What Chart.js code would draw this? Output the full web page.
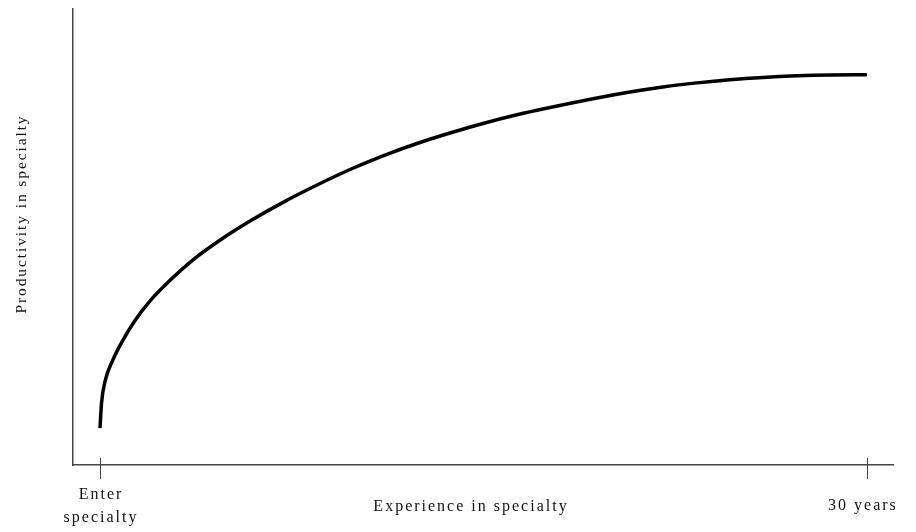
<!DOCTYPE html>
<html lang="en">
<head>
<meta charset="UTF-8">
<script src="https://cdn.jsdelivr.net/npm/chart.js"></script>
<style>
  html, body { margin: 0; padding: 0; background: #ffffff; }
  #wrap { width: 916px; height: 532px; }
</style>
</head>
<body>
<div id="wrap"><canvas id="chart" width="916" height="532"></canvas></div>
<script>
// years in specialty (0 = enter specialty, 30 = 30 years)
const years = [0, 0.06, 0.2, 0.5, 0.9, 1.37, 1.96, 2.74, 3.64, 4.69, 5.87, 7.16, 8.49, 9.78,
  11.07, 12.4, 13.69, 14.98, 16.31, 17.6, 19.44, 20.73, 22.02, 23.35, 24.64, 25.93, 27.26, 28.55, 30];
// productivity (arbitrary units, 0..100)
const productivity = [8.1, 13.6, 18.4, 23.0, 27.4, 31.7, 36.0, 40.5, 45.0, 49.3, 53.5, 57.6, 61.4, 64.8,
  67.8, 70.5, 72.8, 74.9, 76.8, 78.4, 80.5, 81.8, 82.9, 83.8, 84.5, 85.0, 85.35, 85.55, 85.6];
const tickValues = [0, 30];
const tickLabels = [['Enter', 'specialty'], ['30 years']];
const xTitle = 'Experience in specialty';
const yTitle = 'Productivity in specialty';

const textFont = '"Liberation Serif", "DejaVu Serif", serif';
const axisColor = '#444444';

// draws crossing tick marks and all texts (letter-spaced like the print)
const annotate = {
  id: 'annotate',
  afterDraw(chart) {
    const ctx = chart.ctx;
    const x = chart.scales.x;
    const area = chart.chartArea;
    ctx.save();
    ctx.strokeStyle = axisColor;
    ctx.lineWidth = 1;
    tickValues.forEach(v => {
      const px = Math.round(x.getPixelForValue(v)) + 0.5;
      ctx.beginPath();
      ctx.moveTo(px, area.bottom - 7);
      ctx.lineTo(px, area.bottom + 14);
      ctx.stroke();
    });

    ctx.fillStyle = '#111111';
    ctx.textAlign = 'center';
    ctx.textBaseline = 'middle';
    ctx.font = '16px ' + textFont;
    ctx.letterSpacing = '2px';
    // tick labels
    const enter = tickLabels[0];
    const px0 = x.getPixelForValue(tickValues[0]);
    ctx.fillText(enter[0], px0 + 1, area.bottom + 30);
    ctx.fillText(enter[1], px0 + 1, area.bottom + 53);
    const px1 = x.getPixelForValue(tickValues[1]);
    ctx.fillText(tickLabels[1][0], px1 - 4, area.bottom + 41);
    // axis titles
    ctx.fillText(xTitle, 471, area.bottom + 42);
    ctx.translate(22, 214);
    ctx.rotate(-Math.PI / 2);
    ctx.font = '15.5px ' + textFont;
    ctx.letterSpacing = '1.9px';
    ctx.fillText(yTitle, 0, 0);
    ctx.restore();
  }
};

new Chart(document.getElementById('chart'), {
  type: 'line',
  data: {
    datasets: [{
      data: years.map((v, i) => ({ x: v, y: productivity[i] })),
      borderColor: '#000000',
      borderWidth: 3.5,
      pointRadius: 0,
      cubicInterpolationMode: 'monotone',
      fill: false
    }]
  },
  options: {
    responsive: false,
    animation: false,
    layout: { padding: { left: 73, right: 23, top: 9, bottom: 67 } },
    plugins: { legend: { display: false }, tooltip: { enabled: false } },
    scales: {
      x: {
        type: 'linear',
        min: -1.056,
        max: 31.02,
        grid: { display: false, drawTicks: false },
        ticks: { display: false },
        border: { display: true, color: axisColor, width: 1.5 }
      },
      y: {
        min: 0,
        max: 100,
        grid: { display: false, drawTicks: false },
        ticks: { display: false },
        border: { display: true, color: axisColor, width: 1.5 }
      }
    }
  },
  plugins: [annotate]
});
</script>
</body>
</html>
